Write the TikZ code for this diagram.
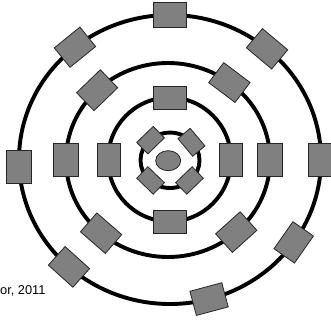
\documentclass[tikz,border=0pt]{standalone}
\usepackage{fontspec}
\setmainfont{Liberation Sans}
\usepackage{xcolor}
\definecolor{cRing}{HTML}{000000}
\definecolor{cBlock}{HTML}{808080}
\definecolor{cEdge}{HTML}{262626}
\usepackage{tikz}
\usetikzlibrary{positioning,calc,shapes.geometric}
\tikzset{
  ring/.style={draw=cRing,line width=3.9pt},
  node-block/.style={draw=cEdge,line width=0.8pt,fill=cBlock,
    minimum width=33pt,minimum height=25pt,inner sep=0pt},
  node-block-small/.style={node-block,minimum width=23pt,minimum height=16pt},
  node-core/.style={draw=cEdge,line width=0.8pt,fill=cBlock,ellipse,
    minimum width=25pt,minimum height=20pt,inner sep=0pt},
}

\begin{document}
\begin{tikzpicture}[x=1pt,y=1pt]
  \useasboundingbox (0,0) rectangle (331,322);
  % centres of the rings
  \coordinate (outer) at (170,162.5);
  \coordinate (second) at (168,162);
  \coordinate (third) at (169.5,162.5);
  \coordinate (inner) at (170,161.7);
  % rings
  \draw[ring] (outer) ellipse [x radius=151,y radius=144.5];
  \draw[ring] (second) ellipse [x radius=102,y radius=97];
  \draw[ring] (third) ellipse [x radius=61.5,y radius=62];
  \draw[ring] (inner) ellipse [x radius=29.5,y radius=27.7];
  % blocks on the outer ring
  \foreach \a/\r/\n in {90/0/n,129/39/nw,50/-40/ne,183/90/w,0/90/e,
                        -35/-125/se,-132/-222/sw,-75/-165/s}
    \node[node-block,rotate=\r] (outer-\n)
      at ([shift={(\a:151 and 144.5)}]outer) {};
  % blocks on the second ring
  \foreach \a/\n in {134/nw,53/ne,180/w,0/e,-131/sw,-48/se}
    \node[node-block,rotate=\a-90] (second-\n)
      at ([shift={(\a:102 and 97)}]second) {};
  % blocks on the third ring
  \foreach \a/\n in {90/n,180/w,0/e,270/s}
    \node[node-block,minimum height=23pt,rotate=\a-90] (third-\n)
      at ([shift={(\a:61 and 62)}]third) {};
  % blocks on the inner ring
  \foreach \a/\n in {134/nw,40/ne,-134/sw,-46/se}
    \node[node-block-small,rotate=\a-90] (inner-\n)
      at ([shift={(\a:28)}]inner) {};
  \node[node-core] (core) at (168.2,161.3) {};
  % source
  \node[anchor=base west,inner sep=0pt,font=\fontsize{12.8}{15}\selectfont]
    (source) at (0,28) {or, 2011};
\end{tikzpicture}
\end{document}
